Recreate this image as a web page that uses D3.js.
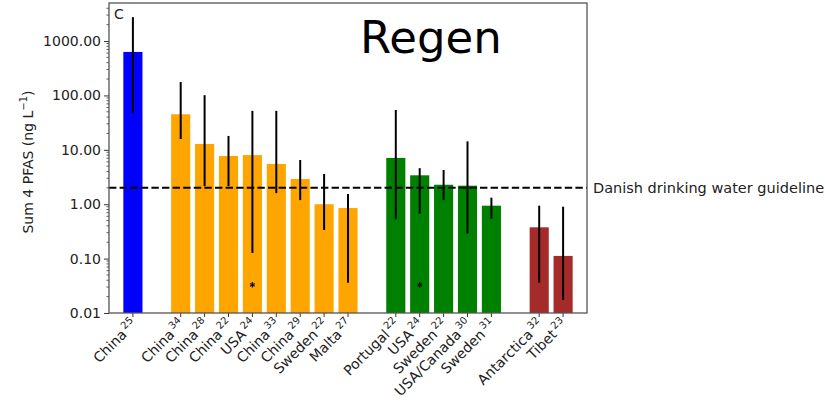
<!DOCTYPE html>
<html>
<head>
<meta charset="utf-8">
<script src="https://cdn.jsdelivr.net/npm/d3@7/dist/d3.min.js"></script>
<style>
  html, body { margin: 0; padding: 0; background: #fff; }
  svg { display: block; }
  text { font-family: "DejaVu Sans", sans-serif; fill: #222; }
</style>
</head>
<body>
<svg id="chart" width="825" height="409"></svg>
<script>
// Study sites (name, reference number) and their slot along the x axis
const sites = ["China", "China", "China", "China", "USA", "China", "China", "Sweden", "Malta",
               "Portugal", "USA", "Sweden", "USA/Canada", "Sweden", "Antarctica", "Tibet"];
const refs = ["25", "34", "28", "22", "24", "33", "29", "22", "27",
              "22", "24", "22", "30", "31", "32", "23"];
const slots = [0, 2, 3, 4, 5, 6, 7, 8, 9, 11, 12, 13, 14, 15, 17, 18];
const groups = ["asia", "asia2", "asia2", "asia2", "asia2", "asia2", "asia2", "asia2", "asia2",
                "west", "west", "west", "west", "west", "remote", "remote"];

// Median sum of 4 PFAS (ng/L) with lower / upper range
const medians = [630, 45, 12.8, 7.7, 8.0, 5.5, 2.9, 1.0, 0.85, 7.1, 3.4, 2.28, 2.19, 0.94, 0.376, 0.112];
const lows    = [47, 15.8, 2.15, 2.15, 0.127, 1.6, 1.19, 0.336, 0.036, 0.53, 0.67, 1.19, 0.29, 0.54, 0.036, 0.0174];
const highs   = [2750, 176, 101, 18, 52, 52, 6.5, 3.6, 1.54, 54, 4.6, 4.25, 14.3, 1.32, 0.94, 0.90];
// Sites flagged with an asterisk, and the level where it sits
const starred = [4, 10];
const starLevel = 0.033;

const yTicks = [0.01, 0.1, 1, 10, 100, 1000];
const guideline = 2;
const guidelineLabel = "Danish drinking water guideline";

const colors = { asia: "#0000ff", asia2: "#ffa500", west: "#008000", remote: "#a52a2a" };

const svg = d3.select("#chart");
const pL = 109, pR = 587, pT = 3, pB = 313;

const x = d3.scaleLinear().domain([-1, 19]).range([pL, pR]);
const y = d3.scaleLog().domain([0.01, 5000]).range([pB, pT]);
const barW = (x(1) - x(0)) * 0.8;

const plot = svg.append("g");

// Bars
plot.selectAll("rect.bar").data(medians).join("rect")
  .attr("class", "bar")
  .attr("x", (d, i) => x(slots[i]) - barW / 2)
  .attr("width", barW)
  .attr("y", d => y(d))
  .attr("height", d => pB - y(d))
  .attr("fill", (d, i) => colors[groups[i]]);

// Range lines
plot.selectAll("line.err").data(medians).join("line")
  .attr("class", "err")
  .attr("x1", (d, i) => x(slots[i])).attr("x2", (d, i) => x(slots[i]))
  .attr("y1", (d, i) => y(lows[i])).attr("y2", (d, i) => y(highs[i]))
  .attr("stroke", "#000").attr("stroke-width", 2);

// Asterisk markers
plot.selectAll("path.star").data(starred).join("path")
  .attr("class", "star")
  .attr("d", d3.symbol(d3.symbolAsterisk, 20))
  .attr("transform", i => `translate(${x(slots[i])},${y(starLevel)})`)
  .attr("fill", "none").attr("stroke", "#111").attr("stroke-width", 1.2);

// Guideline
plot.append("line")
  .attr("x1", pL).attr("x2", pR)
  .attr("y1", y(guideline)).attr("y2", y(guideline))
  .attr("stroke", "#000").attr("stroke-width", 2)
  .attr("stroke-dasharray", "7.4,3.2");
svg.append("text")
  .attr("x", pR + 6).attr("y", y(guideline) + 5)
  .attr("font-size", 14.5)
  .text(guidelineLabel);

// Y axis (log) with minor ticks
const yAxis = d3.axisLeft(y).tickValues(yTicks).tickFormat(d3.format(".2f")).tickSize(5).tickPadding(3);
const yg = svg.append("g").attr("transform", `translate(${pL},0)`).call(yAxis);
yg.select(".domain").remove();
yg.selectAll("text").attr("font-size", 14).attr("font-family", "DejaVu Sans").attr("fill", "#222");
yg.selectAll("line").attr("stroke", "#333");
const minor = [];
for (let e = -2; e <= 3; e++) for (let m = 2; m <= 9; m++) {
  const v = m * Math.pow(10, e);
  if (v < 5000) minor.push(v);
}
svg.append("g").selectAll("line").data(minor).join("line")
  .attr("x1", pL - 2.5).attr("x2", pL)
  .attr("y1", d => y(d)).attr("y2", d => y(d))
  .attr("stroke", "#333").attr("stroke-width", 0.8);

// X ticks and rotated labels
const xg = svg.append("g");
xg.selectAll("line").data(slots).join("line")
  .attr("x1", d => x(d)).attr("x2", d => x(d))
  .attr("y1", pB).attr("y2", pB + 4)
  .attr("stroke", "#333");
const labels = xg.selectAll("text").data(sites).join("text")
  .attr("text-anchor", "end")
  .attr("font-size", 14)
  .attr("transform", (d, i) => `translate(${x(slots[i]) + 5},${pB + 12}) rotate(-45)`);
labels.append("tspan").text(d => d);
labels.append("tspan").attr("font-size", 10).attr("dx", 2).attr("dy", -6).text((d, i) => refs[i]);

// Frame
svg.append("rect")
  .attr("x", pL).attr("y", pT).attr("width", pR - pL).attr("height", pB - pT)
  .attr("fill", "none").attr("stroke", "#555").attr("stroke-width", 1.3);

// Y label
svg.append("text")
  .attr("transform", `translate(33,${(pT + pB) / 2 + 4}) rotate(-90)`)
  .attr("text-anchor", "middle").attr("font-size", 14)
  .html('Sum 4 PFAS (ng L<tspan font-size="10" dy="-6">−1</tspan><tspan dy="6">)</tspan>');

// Panel letter
svg.append("text").attr("x", 114).attr("y", 19).attr("font-size", 14).text("C");

// Title
svg.append("text")
  .attr("x", 360).attr("y", 53)
  .attr("font-family", "Liberation Sans, Arial, sans-serif")
  .attr("font-size", 45).style("fill", "#000")
  .text("Regen");
</script>
</body>
</html>
